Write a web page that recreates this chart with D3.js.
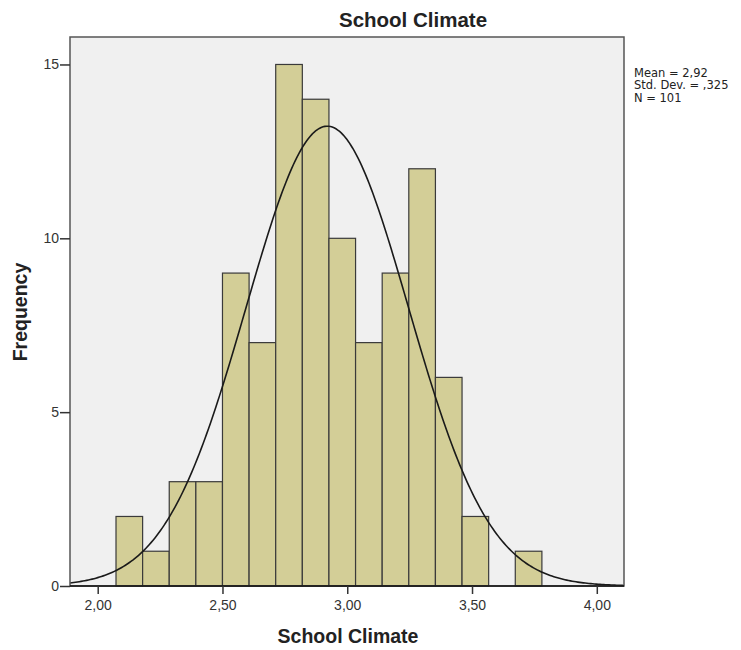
<!DOCTYPE html>
<html>
<head>
<meta charset="utf-8">
<script src="https://cdn.jsdelivr.net/npm/d3@7"></script>
<style>
  body { margin: 0; background: #fff; }
  text { font-family: "Liberation Sans", Arial, sans-serif; }
</style>
</head>
<body>
<svg id="chart" width="741" height="650"></svg>
<script>
// bin counts (bins of width 0.32/3 starting at 2.0733)
const binStart = 2.5 - 4 * (0.32 / 3);
const binWidth = 0.32 / 3;
const counts = [2, 1, 3, 3, 9, 7, 15, 14, 10, 7, 9, 12, 6, 2, 0, 1];
const xTicks = [2.0, 2.5, 3.0, 3.5, 4.0];
const yTicks = [0, 5, 10, 15];
const stats = { mean: 2.92, sd: 0.325, n: 101 };
const statLines = ["Mean = 2,92", "Std. Dev. = ,325", "N = 101"];

const svg = d3.select("#chart");
const plot = { left: 70, right: 624, top: 37, bottom: 586 };

const x = d3.scaleLinear().domain([1.889, 4.109]).range([plot.left, plot.right]);
const y = d3.scaleLinear().domain([0, 15.79]).range([plot.bottom, plot.top]);

const bins = counts.map((c, i) => ({
  x0: binStart + i * binWidth,
  x1: binStart + (i + 1) * binWidth,
  count: c,
}));

svg.append("rect")
  .attr("x", plot.left).attr("y", plot.top)
  .attr("width", plot.right - plot.left).attr("height", plot.bottom - plot.top)
  .attr("fill", "#f0f0f0");

svg.selectAll(".bar")
  .data(bins.filter((d) => d.count > 0))
  .enter()
  .append("rect")
  .attr("x", (d) => x(d.x0))
  .attr("y", (d) => y(d.count))
  .attr("width", (d) => x(d.x1) - x(d.x0))
  .attr("height", (d) => y(0) - y(d.count))
  .attr("fill", "#d3ce97")
  .attr("stroke", "#3a3a3a")
  .attr("stroke-width", 1.2);

// normal curve scaled to counts
const curveX = d3.range(0, 301).map((i) => 1.889 + (i / 300) * (4.109 - 1.889));
const norm = (v) =>
  (stats.n * binWidth) / (stats.sd * Math.sqrt(2 * Math.PI)) *
  Math.exp(-0.5 * Math.pow((v - stats.mean) / stats.sd, 2));

svg.append("path")
  .datum(curveX)
  .attr("fill", "none")
  .attr("stroke", "#1a1a1a")
  .attr("stroke-width", 1.6)
  .attr("d", d3.line().x((d) => x(d)).y((d) => y(norm(d))));

// frame
svg.append("rect")
  .attr("x", plot.left).attr("y", plot.top)
  .attr("width", plot.right - plot.left).attr("height", plot.bottom - plot.top)
  .attr("fill", "none")
  .attr("stroke", "#555")
  .attr("stroke-width", 1.5);
svg.append("line")
  .attr("x1", plot.left).attr("x2", plot.right)
  .attr("y1", plot.bottom).attr("y2", plot.bottom)
  .attr("stroke", "#111").attr("stroke-width", 1.5);

const fmt = (v) => v.toFixed(2).replace(".", ",");

const xAxis = svg.append("g")
  .attr("transform", `translate(0,${plot.bottom})`)
  .call(d3.axisBottom(x).tickValues(xTicks).tickSize(8).tickPadding(6).tickFormat(fmt));
xAxis.select(".domain").remove();
xAxis.selectAll("line").attr("stroke", "#333").attr("stroke-width", 1.5);
xAxis.selectAll("text")
  .style("font-size", "14px").attr("fill", "#333")
  .style("font-family", "Liberation Sans, Arial, sans-serif");

const yAxis = svg.append("g")
  .attr("transform", `translate(${plot.left},0)`)
  .call(d3.axisLeft(y).tickValues(yTicks).tickSize(10).tickPadding(1));
yAxis.select(".domain").remove();
yAxis.selectAll("line").attr("stroke", "#333").attr("stroke-width", 1.5);
yAxis.selectAll("text")
  .style("font-size", "14px").attr("fill", "#333")
  .style("font-family", "Liberation Sans, Arial, sans-serif");

svg.append("text")
  .attr("x", 413).attr("y", 26.5)
  .attr("text-anchor", "middle")
  .style("font-size", "20.5px").attr("font-weight", "bold").attr("fill", "#222")
  .text("School Climate");

svg.append("text")
  .attr("x", 348).attr("y", 643)
  .attr("text-anchor", "middle")
  .style("font-size", "19.5px").attr("font-weight", "bold").attr("fill", "#222")
  .text("School Climate");

svg.append("text")
  .attr("transform", "translate(27,312) rotate(-90)")
  .attr("text-anchor", "middle")
  .style("font-size", "19.5px").attr("font-weight", "bold").attr("fill", "#222")
  .text("Frequency");

svg.selectAll(".stat")
  .data(statLines)
  .enter()
  .append("text")
  .attr("x", 634)
  .attr("y", (d, i) => 76.5 + i * 12.5)
  .style("font-family", "DejaVu Sans, sans-serif")
  .style("font-size", "11.5px").attr("fill", "#222")
  .text((d) => d);
</script>
</body>
</html>
